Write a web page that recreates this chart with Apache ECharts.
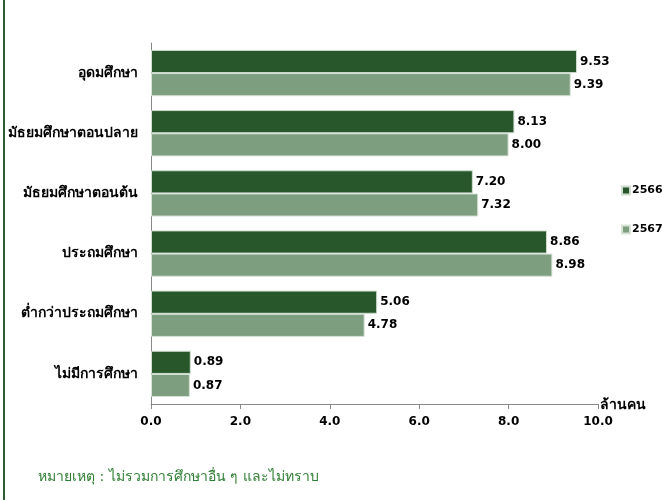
<!DOCTYPE html>
<html><head><meta charset="utf-8">
<script src="https://cdn.jsdelivr.net/npm/echarts@6/dist/echarts.min.js"></script>
<style>html,body{margin:0;padding:0;background:#fff}#c{width:662px;height:500px}</style>
</head><body><div id="c"></div>
<script>
const categories = ['อุดมศึกษา','มัธยมศึกษาตอนปลาย','มัธยมศึกษาตอนต้น','ประถมศึกษา','ต่ำกว่าประถมศึกษา','ไม่มีการศึกษา'];
const seriesNames = ['2566','2567'];
const values2566 = [9.53, 8.13, 7.20, 8.86, 5.06, 0.89];
const values2567 = [9.39, 8.00, 7.32, 8.98, 4.78, 0.87];
const xTicks = [0, 2, 4, 6, 8, 10];
const unitLabel = 'ล้านคน';
const footnote = 'หมายเหตุ : ไม่รวมการศึกษาอื่น ๆ และไม่ทราบ';

const FONT = "Tahoma, 'DejaVu Sans', 'Noto Sans', sans-serif";
const chart = echarts.init(document.getElementById('c'), null, {renderer:'canvas'});
const lbl = {show:true, position:'right', distance:3, color:'#000', fontWeight:'bold', fontSize:12, fontFamily:FONT, formatter: p => p.value.toFixed(2)};
chart.setOption({
  animation:false,
  textStyle:{fontFamily:FONT},
  grid:{left:151, right:64, top:43, bottom:96, containLabel:false},
  legend:{
    orient:'vertical', left:616, top:180, itemGap:28, itemWidth:8, itemHeight:8,
    icon:'rect', textStyle:{fontSize:11, fontWeight:'bold', color:'#000', fontFamily:FONT, padding:[0,0,0,-3]},
    data:seriesNames
  },
  graphic:[
    {type:'rect', left:3, top:0, shape:{width:2, height:500}, style:{fill:'#2a5e2e'}},
    {type:'text', left:38, top:470, style:{text:footnote, fill:'#2e7d32', fontSize:14, fontFamily:FONT}}
  ],
  xAxis:{
    type:'value', min:xTicks[0], max:xTicks[xTicks.length-1], interval:2,
    name:unitLabel, nameLocation:'end', nameGap:2,
    nameTextStyle:{color:'#000', fontWeight:'bold', fontSize:14, verticalAlign:'bottom', padding:[0,0,-8,0]},
    axisLine:{show:true, lineStyle:{color:'#888', width:1}},
    axisTick:{show:true, length:5, lineStyle:{color:'#888'}},
    splitLine:{show:false},
    axisLabel:{color:'#000', fontWeight:'bold', fontSize:12, margin:12, formatter: v => v.toFixed(1)}
  },
  yAxis:{
    type:'category', inverse:true, data:categories,
    axisLine:{show:true, lineStyle:{color:'#888', width:1}},
    axisTick:{show:false},
    axisLabel:{color:'#000', fontWeight:'bold', fontSize:14, margin:13}
  },
  series:[
    {name:seriesNames[0], type:'bar', data:values2566, barGap:'0%', barCategoryGap:'23%',
     itemStyle:{color:'#27572a', borderColor:'#cfdccf', borderWidth:1}, label:lbl},
    {name:seriesNames[1], type:'bar', data:values2567,
     itemStyle:{color:'#7e9e80', borderColor:'#d8e3d8', borderWidth:1}, label:lbl}
  ]
});
</script></body></html>
